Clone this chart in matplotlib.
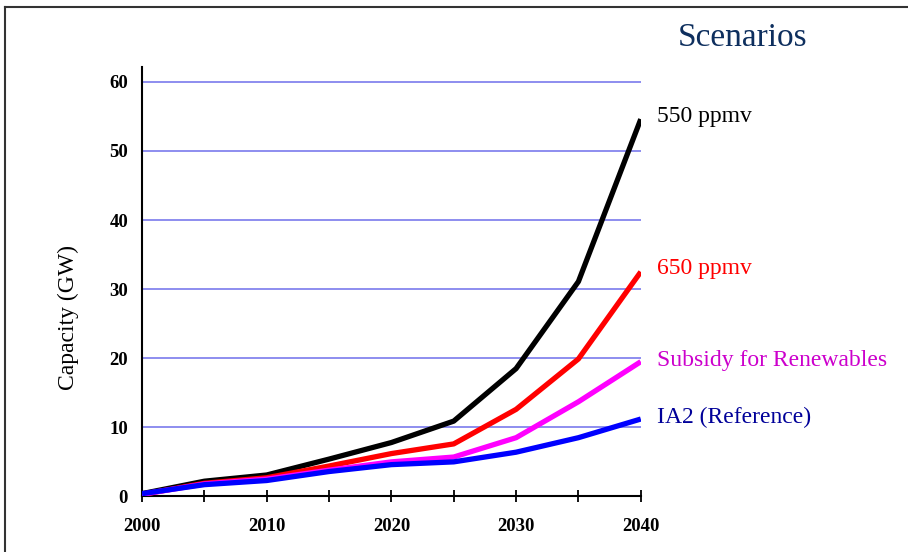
"""
Capacity scenarios chart
"""
import matplotlib
matplotlib.use('Agg')
import matplotlib.pyplot as plt
from matplotlib.lines import Line2D

years = [2000, 2005, 2010, 2015, 2020, 2025, 2030, 2035, 2040]
ppmv_550 = [0.4, 2.2, 3.1, 5.4, 7.8, 10.9, 18.5, 31.1, 54.6]
ppmv_650 = [0.3, 1.9, 2.7, 4.4, 6.2, 7.6, 12.6, 19.9, 32.5]
subsidy = [0.3, 1.8, 2.5, 3.8, 5.0, 5.7, 8.5, 13.7, 19.5]
ia2_ref = [0.4, 1.7, 2.3, 3.6, 4.6, 5.0, 6.4, 8.5, 11.2]

series_names = ['550 ppmv', '650 ppmv', 'Subsidy for Renewables', 'IA2 (Reference)']
y_ticks = [0, 10, 20, 30, 40, 50, 60]
x_labels = [2000, 2010, 2020, 2030, 2040]

plt.rcParams['font.family'] = ['Liberation Serif', 'DejaVu Serif']

fig = plt.figure(figsize=(9.08, 5.52), dpi=100)
ax = fig.add_axes([0.1564, 0.1007, 0.7057 - 0.1564, 0.878 - 0.1007])

# frame around the slide
fig.add_artist(Line2D([5 / 908, 5 / 908], [0, 1 - 7 / 552], transform=fig.transFigure,
                      color='#333333', linewidth=1.5))
fig.add_artist(Line2D([5 / 908, 1], [1 - 7 / 552, 1 - 7 / 552], transform=fig.transFigure,
                      color='#333333', linewidth=1.5))

for yv in y_ticks[1:]:
    ax.plot([years[0], years[-1]], [yv, yv], color='#8585EE', linewidth=1.3, zorder=1)

line_specs = [
    (ppmv_550, 'black', 'black', 55.0),
    (ppmv_650, '#FF0000', '#FF0000', 33.0),
    (subsidy, '#FF00FF', '#CC00CC', 19.6),
    (ia2_ref, '#0000FF', '#000099', 11.4),
]
for name, (vals, col, txt_col, ty) in zip(series_names, line_specs):
    ax.plot(years, vals, color=col, linewidth=3.8, solid_capstyle='butt', zorder=3)
    ax.text(2041.3, ty, name, color=txt_col, fontsize=17, va='center', ha='left', clip_on=False)

ax.set_xlim(2000, 2040)
ax.set_ylim(0, 62.1)
ax.set_xticks(years)
ax.set_xticklabels([str(y) if y in x_labels else '' for y in years], fontsize=13.5, fontweight='bold')
ax.set_yticks(y_ticks)
ax.set_yticklabels([str(v) for v in y_ticks], fontsize=13.5, fontweight='bold')
ax.tick_params(axis='x', direction='inout', length=9, width=1.3, pad=11)
ax.tick_params(axis='y', length=0, pad=10)

for side in ['top', 'right']:
    ax.spines[side].set_visible(False)
for side in ['left', 'bottom']:
    ax.spines[side].set_linewidth(1.5)

fig.text(68 / 908, 1 - 318 / 552, 'Capacity (GW)', fontsize=17, rotation=90,
         ha='center', va='center')

fig.text(743 / 908, 1 - 38 / 552, 'Scenarios', color='#0E2F5E', fontsize=24,
         ha='center', va='center')

fig.savefig('out.png', dpi=100)
plt.close(fig)
